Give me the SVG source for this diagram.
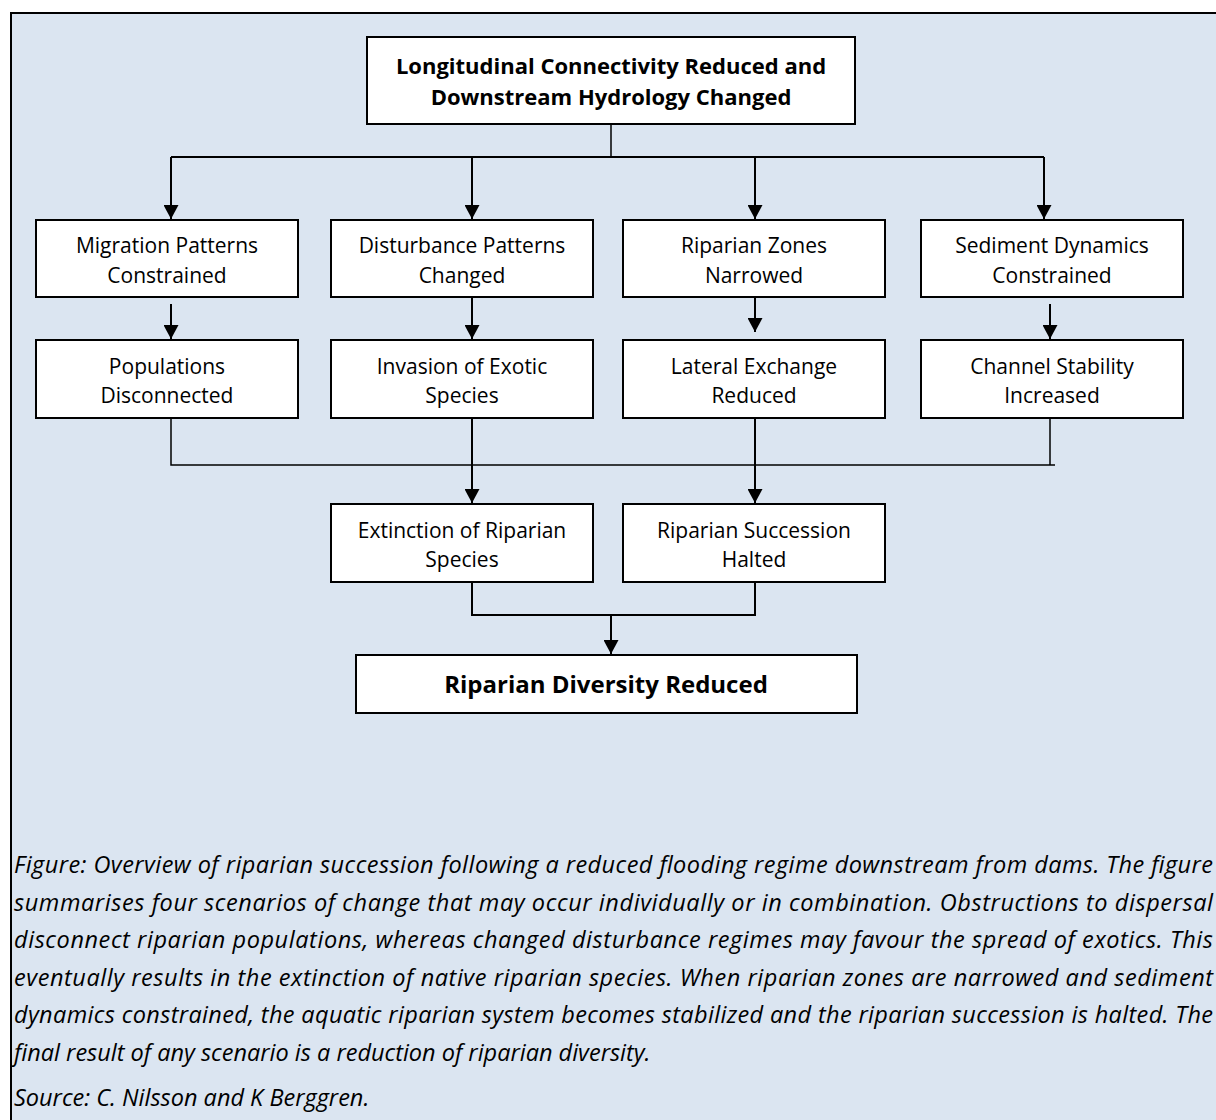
<svg xmlns="http://www.w3.org/2000/svg" width="1216" height="1120" viewBox="0 0 1216 1120">
<defs>
<marker id="ah" markerUnits="userSpaceOnUse" markerWidth="14" markerHeight="15" refX="14" refY="7.5" orient="auto">
<path d="M0,0 L14,7.5 L0,15 Z" fill="#000"/>
</marker>
<style>
.box{fill:#fff;stroke:#000;stroke-width:2}
.t{font-family:"Open Sans","Liberation Sans",sans-serif;font-size:21px;fill:#000;text-anchor:middle}
.b{font-weight:bold;font-size:22px}
.c{fill:none;stroke:#000;stroke-width:2}
.thin{fill:none;stroke:#000;stroke-width:1.5}
.cap{font-family:"Open Sans","Liberation Sans",sans-serif;font-size:23.5px;font-style:italic;fill:#000}
</style>
</defs>
<rect x="11" y="13" width="1220" height="1120" fill="#DBE5F1" stroke="#000" stroke-width="2"/>

<g id="connectors">
<line class="thin" x1="611" y1="124" x2="611" y2="157"/>
<line class="c" x1="171" y1="157" x2="1044" y2="157"/>
<line class="c" x1="171" y1="157" x2="171" y2="219" marker-end="url(#ah)"/>
<line class="c" x1="472" y1="157" x2="472" y2="219" marker-end="url(#ah)"/>
<line class="c" x1="755" y1="157" x2="755" y2="219" marker-end="url(#ah)"/>
<line class="c" x1="1044" y1="157" x2="1044" y2="219" marker-end="url(#ah)"/>
<line class="c" x1="171" y1="304" x2="171" y2="339" marker-end="url(#ah)"/>
<line class="c" x1="472" y1="297" x2="472" y2="339" marker-end="url(#ah)"/>
<line class="c" x1="755" y1="297" x2="755" y2="332" marker-end="url(#ah)"/>
<line class="c" x1="1050" y1="304" x2="1050" y2="339" marker-end="url(#ah)"/>
<polyline class="thin" points="171,418 171,465 1055,465"/>
<line class="thin" x1="1050" y1="418" x2="1050" y2="465"/>
<line class="c" x1="472" y1="418" x2="472" y2="503" marker-end="url(#ah)"/>
<line class="c" x1="755" y1="418" x2="755" y2="503" marker-end="url(#ah)"/>
<polyline class="c" points="472,582 472,615 755,615 755,582"/>
<line class="c" x1="611" y1="615" x2="611" y2="654" marker-end="url(#ah)"/>
</g>

<g id="n-top">
<rect class="box" x="367" y="37" width="488" height="87"/>
<text class="t b" x="611" y="74">Longitudinal Connectivity Reduced and</text>
<text class="t b" x="611" y="105">Downstream Hydrology Changed</text>
</g>

<g id="n-migration">
<rect class="box" x="36" y="220" width="262" height="77"/>
<text class="t" x="167" y="253">Migration Patterns</text>
<text class="t" x="167" y="283">Constrained</text>
</g>
<g id="n-disturbance">
<rect class="box" x="331" y="220" width="262" height="77"/>
<text class="t" x="462" y="253">Disturbance Patterns</text>
<text class="t" x="462" y="283">Changed</text>
</g>
<g id="n-zones">
<rect class="box" x="623" y="220" width="262" height="77"/>
<text class="t" x="754" y="253">Riparian Zones</text>
<text class="t" x="754" y="283">Narrowed</text>
</g>
<g id="n-sediment">
<rect class="box" x="921" y="220" width="262" height="77"/>
<text class="t" x="1052" y="253">Sediment Dynamics</text>
<text class="t" x="1052" y="283">Constrained</text>
</g>

<g id="n-populations">
<rect class="box" x="36" y="340" width="262" height="78"/>
<text class="t" x="167" y="374">Populations</text>
<text class="t" x="167" y="403">Disconnected</text>
</g>
<g id="n-invasion">
<rect class="box" x="331" y="340" width="262" height="78"/>
<text class="t" x="462" y="374">Invasion of Exotic</text>
<text class="t" x="462" y="403">Species</text>
</g>
<g id="n-lateral">
<rect class="box" x="623" y="340" width="262" height="78"/>
<text class="t" x="754" y="374">Lateral Exchange</text>
<text class="t" x="754" y="403">Reduced</text>
</g>
<g id="n-channel">
<rect class="box" x="921" y="340" width="262" height="78"/>
<text class="t" x="1052" y="374">Channel Stability</text>
<text class="t" x="1052" y="403">Increased</text>
</g>

<g id="n-extinction">
<rect class="box" x="331" y="504" width="262" height="78"/>
<text class="t" x="462" y="538">Extinction of Riparian</text>
<text class="t" x="462" y="567">Species</text>
</g>
<g id="n-succession">
<rect class="box" x="623" y="504" width="262" height="78"/>
<text class="t" x="754" y="538">Riparian Succession</text>
<text class="t" x="754" y="567">Halted</text>
</g>

<g id="n-diversity">
<rect class="box" x="356" y="655" width="501" height="58"/>
<text class="t b" x="606" y="693" style="font-size:24px">Riparian Diversity Reduced</text>
</g>

<g id="caption">
<text class="cap" x="14" y="873" textLength="1199" lengthAdjust="spacing">Figure: Overview of riparian succession following a reduced flooding regime downstream from dams. The figure</text>
<text class="cap" x="14" y="910.5" textLength="1199" lengthAdjust="spacing">summarises four scenarios of change that may occur individually or in combination. Obstructions to dispersal</text>
<text class="cap" x="14" y="948" textLength="1199" lengthAdjust="spacing">disconnect riparian populations, whereas changed disturbance regimes may favour the spread of exotics. This</text>
<text class="cap" x="14" y="985.5" textLength="1199" lengthAdjust="spacing">eventually results in the extinction of native riparian species. When riparian zones are narrowed and sediment</text>
<text class="cap" x="14" y="1023" textLength="1199" lengthAdjust="spacing">dynamics constrained, the aquatic riparian system becomes stabilized and the riparian succession is halted. The</text>
<text class="cap" x="14" y="1060.5">final result of any scenario is a reduction of riparian diversity.</text>
<text class="cap" x="14" y="1106">Source: C. Nilsson and K Berggren.</text>
</g>
</svg>
